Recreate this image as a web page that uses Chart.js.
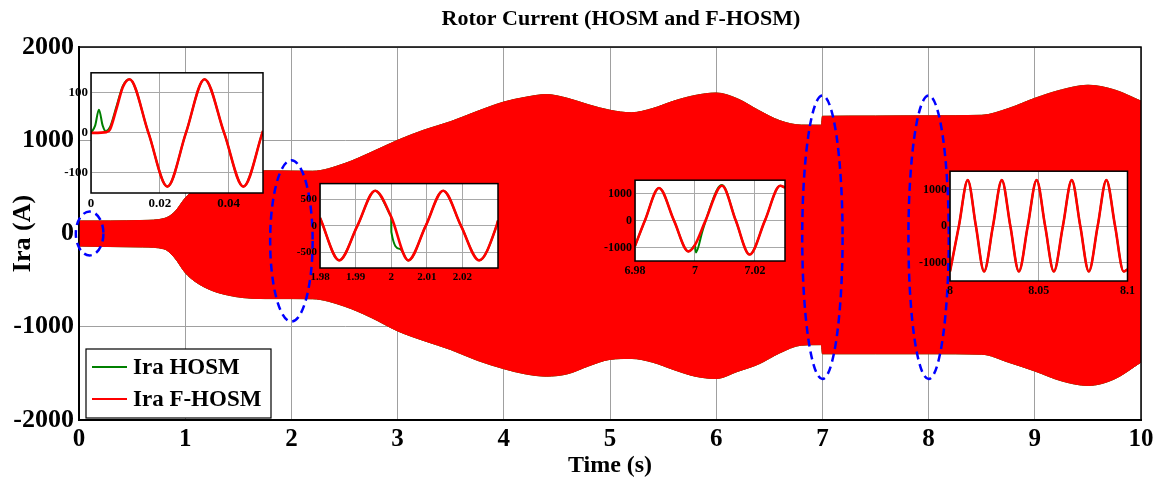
<!DOCTYPE html>
<html>
<head>
<meta charset="utf-8">
<script src="https://cdn.jsdelivr.net/npm/chart.js@4.4.1/dist/chart.umd.min.js"></script>
<style>
body { margin: 0; background: #fff; }
#wrap { position: relative; width: 1159px; height: 483px; }
#wrap canvas { position: absolute; left: 0; top: 0; }
</style>
</head>
<body>
<div id="wrap">
<canvas id="mainChart" width="1159" height="483"></canvas>
<canvas id="inset1"></canvas>
<canvas id="inset2"></canvas>
<canvas id="inset3"></canvas>
<canvas id="inset4"></canvas>
</div>
<script>
const SERIF = "'Liberation Serif', 'Times New Roman', serif";
const GREEN = '#008000';
const RED = '#ff0000';

// main plot: envelope of the oscillating rotor current, 0 - 10 s
const envTime = [0, 0.3, 0.6, 0.8, 0.9, 1.0, 1.1, 1.25, 1.4, 1.55, 1.75, 2.0, 2.2, 2.5, 2.75,
    3.0, 3.25, 3.5, 3.75, 4.0, 4.2, 4.4, 4.6, 4.8, 5.0, 5.2, 5.4, 5.6, 5.8, 6.0,
    6.2, 6.4, 6.6, 6.8, 6.99, 7.0, 7.5, 8.0, 8.5, 8.75, 9.0, 9.25, 9.5, 9.75, 10];
const fhosmUpper = [135, 135, 140, 160, 230, 380, 480, 570, 630, 660, 672, 670, 668, 750, 870,
    1000, 1110, 1200, 1310, 1410, 1460, 1490, 1450, 1380, 1322, 1295, 1340, 1420, 1480, 1507,
    1445, 1320, 1210, 1163, 1162, 1257, 1260, 1262, 1268, 1340, 1450, 1540, 1590, 1540, 1420];
const fhosmLower = [-135, -140, -145, -165, -260, -420, -520, -610, -660, -688, -698, -698, -700, -780, -900,
    -1045, -1150, -1245, -1360, -1450, -1505, -1530, -1505, -1420, -1350, -1340, -1380, -1460, -1530, -1555,
    -1480, -1400, -1280, -1198, -1192, -1290, -1290, -1290, -1295, -1380, -1475, -1580, -1630, -1560, -1380];
// the HOSM envelope sits right under the F-HOSM one at this scale
const hosmUpper = fhosmUpper;
const hosmLower = fhosmLower;

const xTicks = [0, 1, 2, 3, 4, 5, 6, 7, 8, 9, 10];
const yTicks = [-2000, -1000, 0, 1000, 2000];

// dashed ellipses around the zoomed instants (centre and half sizes in data units)
const zoomMarks = [
    { t: 0.1, a: 0, dt: 0.13, da: 235 },
    { t: 2.0, a: -80, dt: 0.2, da: 865 },
    { t: 7.0, a: -40, dt: 0.19, da: 1520 },
    { t: 8.0, a: -40, dt: 0.19, da: 1520 }
];

// inset 1 : start-up, 0 - 0.05 s
const ins1RedT = [0, 0.0045, 0.0055, 0.0074, 0.0093, 0.0112, 0.0167, 0.0222, 0.0276, 0.033, 0.0387, 0.0443, 0.05];
const ins1Red = [0, 2, 8, 60, 115, 134, 0, -134, 0, 134, 0, -134, 5];
const ins1GreenT = [0, 0.0012, 0.0023, 0.0034, 0.0043, 0.0055, 0.0074, 0.0093, 0.0112, 0.0167, 0.0222, 0.0276, 0.033, 0.0387, 0.0443, 0.05];
const ins1Green = [0, 18, 58, 18, 4, 14, 66, 118, 134, 0, -134, 0, 134, 0, -134, 5];
const ins1XTicks = [0, 0.02, 0.04];
const ins1YTicks = [-100, 0, 100];

// inset 2 : around 2 s (HOSM jumps at t = 2)
const ins2RedT = [1.98, 1.9854, 1.9905, 1.9955, 2.0, 2.0048, 2.0097, 2.0146, 2.0196, 2.0247, 2.0296, 2.03];
const ins2Red = [150, -655, 0, 665, 170, -655, 0, 665, 0, -655, 0, 100];
const ins2GreenT = [1.98, 1.9854, 1.9905, 1.9955, 2.0, 2.00005, 2.0025, 2.0048, 2.0097, 2.0146, 2.0196, 2.0247, 2.0296, 2.03];
const ins2Green = [150, -655, 0, 665, 170, -120, -440, -660, 0, 665, 0, -655, 0, 100];
const ins2XTicks = [1.98, 1.99, 2, 2.01, 2.02];
const ins2YTicks = [-500, 0, 500];

// inset 3 : around 7 s (HOSM jumps at t = 7)
const ins3RedT = [6.98, 6.9833, 6.988, 6.993, 6.9978, 7.0, 7.0035, 7.009, 7.0136, 7.0182, 7.0233, 7.0284, 7.03];
const ins3Red = [-940, 0, 1212, 0, -1143, -900, 0, 1293, 0, -1260, 0, 1293, 1230];
const ins3GreenT = [6.98, 6.9833, 6.988, 6.993, 6.9978, 7.0, 7.0003, 7.0025, 7.0074, 7.009, 7.0136, 7.0182, 7.0233, 7.0284, 7.03];
const ins3Green = [-940, 0, 1212, 0, -1143, -900, -1180, -380, 1152, 1320, 0, -1260, 0, 1293, 1230];
const ins3XTicks = [6.98, 7, 7.02];
const ins3YTicks = [-1000, 0, 1000];

// inset 4 : around 8 s
const ins4RedT = [8.0, 8.005, 8.01, 8.0146, 8.0192, 8.0242, 8.0292, 8.034, 8.0388, 8.0438, 8.0488,
    8.0536, 8.0585, 8.0636, 8.0686, 8.0734, 8.0782, 8.0832, 8.0881, 8.093, 8.0978, 8.1];
const ins4Red = [-1240, 0, 1255, 0, -1240, 0, 1255, 0, -1240, 0, 1255,
    0, -1240, 0, 1255, 0, -1240, 0, 1255, 0, -1240, -1180];
const ins4GreenT = ins4RedT;
const ins4Green = ins4Red;
const ins4XTicks = [8, 8.05, 8.1];
const ins4YTicks = [-1000, 0, 1000];

function toPoints(ts, vs) {
    return ts.map((t, i) => ({ x: t, y: vs[i] }));
}

function bold(size) {
    return { family: SERIF, size: size, weight: 'bold', lineHeight: 1.2 };
}

const mainDecor = {
    id: 'mainDecor',
    afterDatasetsDraw(chart) {
        const { ctx, chartArea: a, scales: { x, y } } = chart;
        ctx.save();
        ctx.strokeStyle = '#000';
        ctx.lineWidth = 1.5;
        ctx.strokeRect(a.left, a.top, a.right - a.left, a.bottom - a.top);

        ctx.strokeStyle = '#0000ff';
        ctx.lineWidth = 2.5;
        ctx.setLineDash([8, 5]);
        zoomMarks.forEach(m => {
            const cx = x.getPixelForValue(m.t);
            const cy = y.getPixelForValue(m.a);
            const rx = x.getPixelForValue(m.t + m.dt) - cx;
            const ry = cy - y.getPixelForValue(m.a + m.da);
            ctx.beginPath();
            ctx.ellipse(cx, cy, rx, ry, 0, 0, Math.PI * 2);
            ctx.stroke();
        });
        ctx.setLineDash([]);

        // legend
        const lx = 86, ly = 349, lw = 185, lh = 69;
        ctx.fillStyle = '#fff';
        ctx.fillRect(lx, ly, lw, lh);
        ctx.strokeStyle = '#000';
        ctx.lineWidth = 1.2;
        ctx.strokeRect(lx, ly, lw, lh);
        const items = [chart.data.datasets[0], chart.data.datasets[2]];
        ctx.font = "bold 23px " + SERIF;
        ctx.textBaseline = 'middle';
        items.forEach((ds, i) => {
            const yy = ly + 18 + i * 32;
            ctx.strokeStyle = ds.borderColor;
            ctx.lineWidth = 2;
            ctx.beginPath();
            ctx.moveTo(lx + 6, yy);
            ctx.lineTo(lx + 41, yy);
            ctx.stroke();
            ctx.fillStyle = '#000';
            ctx.fillText(ds.label, lx + 47, yy + 1);
        });

        ctx.font = "bold 22px " + SERIF;
        ctx.textAlign = 'center';
        ctx.fillText('Rotor Current (HOSM and F-HOSM)', 621, 19);
        ctx.restore();
    }
};

new Chart(document.getElementById('mainChart'), {
    type: 'line',
    data: {
        datasets: [
            { label: 'Ira HOSM', data: toPoints(envTime, hosmUpper), borderColor: GREEN, backgroundColor: GREEN, fill: 1, order: 1 },
            { label: 'Ira HOSM', data: toPoints(envTime, hosmLower), borderColor: GREEN, fill: false, order: 1 },
            { label: 'Ira F-HOSM', data: toPoints(envTime, fhosmUpper), borderColor: RED, backgroundColor: RED, fill: 3, order: 0 },
            { label: 'Ira F-HOSM', data: toPoints(envTime, fhosmLower), borderColor: RED, fill: false, order: 0 }
        ]
    },
    options: {
        responsive: false,
        animation: false,
        devicePixelRatio: 1,
        layout: { padding: { top: 47, right: 18, left: 0, bottom: 0 } },
        elements: {
            point: { radius: 0 },
            line: { borderWidth: 1, cubicInterpolationMode: 'monotone' }
        },
        plugins: { legend: { display: false }, tooltip: { enabled: false } },
        scales: {
            x: {
                type: 'linear', min: 0, max: 10,
                afterBuildTicks: s => { s.ticks = xTicks.map(v => ({ value: v })); },
                afterFit: s => { s.height = 63; },
                ticks: { font: bold(25), color: '#000', padding: 5, maxRotation: 0, autoSkip: false, callback: v => String(v) },
                grid: { color: '#a0a0a0', drawTicks: false },
                border: { color: '#000', width: 2 },
                title: { display: true, text: 'Time (s)', font: bold(24), color: '#000', padding: { top: 0, bottom: 3 } }
            },
            y: {
                type: 'linear', min: -2000, max: 2000,
                afterBuildTicks: s => { s.ticks = yTicks.map(v => ({ value: v })); },
                afterFit: s => { s.width = 79; },
                ticks: { font: bold(26), color: '#000', padding: 5, autoSkip: false, callback: v => String(v) },
                grid: { color: '#a0a0a0', drawTicks: false },
                border: { color: '#000', width: 2 },
                title: { display: true, text: 'Ira (A)', font: bold(26), color: '#000', padding: { top: 8, bottom: 0 } }
            }
        }
    },
    plugins: [mainDecor]
});

const insetFrame = {
    id: 'insetFrame',
    beforeDraw(chart) {
        const { ctx, chartArea: a } = chart;
        ctx.save();
        ctx.fillStyle = '#fff';
        ctx.fillRect(a.left, a.top, a.right - a.left, a.bottom - a.top);
        ctx.restore();
    },
    afterDatasetsDraw(chart) {
        const { ctx, chartArea: a } = chart;
        ctx.save();
        ctx.strokeStyle = '#000';
        ctx.lineWidth = 1.5;
        ctx.strokeRect(a.left, a.top, a.right - a.left, a.bottom - a.top);
        ctx.restore();
    }
};

function makeInset(cfg) {
    const L = 52, T = 6, R = 6, B = 26;
    const cv = document.getElementById(cfg.id);
    const [bx, by, bw, bh] = cfg.box;
    cv.width = bw + L + R;
    cv.height = bh + T + B;
    cv.style.left = (bx - L) + 'px';
    cv.style.top = (by - T) + 'px';
    const tickFont = bold(cfg.fontSize);

    // the HOSM trace is drawn in two pieces when it jumps, so the smoothing
    // of the part before the jump is not bent by the jump itself
    const k = cfg.jumpAt;
    const greenSets = [];
    if (k == null) {
        greenSets.push(toPoints(cfg.greenT, cfg.green));
    } else {
        greenSets.push(toPoints(cfg.greenT.slice(0, k + 1), cfg.green.slice(0, k + 1)));
        greenSets.push(toPoints(cfg.greenT.slice(k), cfg.green.slice(k)));
    }
    const datasets = greenSets.map(pts => ({ label: 'Ira HOSM', data: pts, borderColor: GREEN, borderWidth: 2, order: 1 }));
    datasets.push({ label: 'Ira F-HOSM', data: toPoints(cfg.redT, cfg.red), borderColor: RED, borderWidth: 2.6, order: 0 });

    return new Chart(cv, {
        type: 'line',
        data: { datasets: datasets },
        options: {
            responsive: false,
            animation: false,
            devicePixelRatio: 1,
            layout: { padding: { top: T, right: R, left: 0, bottom: 0 } },
            elements: {
                point: { radius: 0 },
                line: { cubicInterpolationMode: 'monotone', fill: false }
            },
            plugins: { legend: { display: false }, tooltip: { enabled: false } },
            scales: {
                x: {
                    type: 'linear', min: cfg.xRange[0], max: cfg.xRange[1],
                    afterBuildTicks: s => { s.ticks = cfg.xTicks.map(v => ({ value: v })); },
                    afterFit: s => { s.height = B; },
                    ticks: { font: tickFont, color: '#000', padding: 3, maxRotation: 0, autoSkip: false, callback: v => String(v) },
                    grid: { color: '#a8a8a8', drawTicks: false },
                    border: { display: false }
                },
                y: {
                    type: 'linear', min: cfg.yRange[0], max: cfg.yRange[1],
                    afterBuildTicks: s => { s.ticks = cfg.yTicks.map(v => ({ value: v })); },
                    afterFit: s => { s.width = L; },
                    ticks: { font: tickFont, color: '#000', padding: 3, autoSkip: false, callback: v => String(v) },
                    grid: { color: '#a8a8a8', drawTicks: false },
                    border: { display: false }
                }
            }
        },
        plugins: [insetFrame]
    });
}

makeInset({ id: 'inset1', box: [91, 68, 172, 125], fontSize: 13,
    xRange: [0, 0.05], yRange: [-150, 150], xTicks: ins1XTicks, yTicks: ins1YTicks,
    redT: ins1RedT, red: ins1Red, greenT: ins1GreenT, green: ins1Green, jumpAt: null });
makeInset({ id: 'inset2', box: [320, 180, 178, 88], fontSize: 11,
    xRange: [1.98, 2.03], yRange: [-800, 800], xTicks: ins2XTicks, yTicks: ins2YTicks,
    redT: ins2RedT, red: ins2Red, greenT: ins2GreenT, green: ins2Green, jumpAt: 4 });
makeInset({ id: 'inset3', box: [635, 176, 150, 85], fontSize: 12,
    xRange: [6.98, 7.03], yRange: [-1500, 1500], xTicks: ins3XTicks, yTicks: ins3YTicks,
    redT: ins3RedT, red: ins3Red, greenT: ins3GreenT, green: ins3Green, jumpAt: 5 });
makeInset({ id: 'inset4', box: [950, 167, 182, 114], fontSize: 12,
    xRange: [8, 8.1], yRange: [-1500, 1500], xTicks: ins4XTicks, yTicks: ins4YTicks,
    redT: ins4RedT, red: ins4Red, greenT: ins4GreenT, green: ins4Green, jumpAt: null });
</script>
</body>
</html>
